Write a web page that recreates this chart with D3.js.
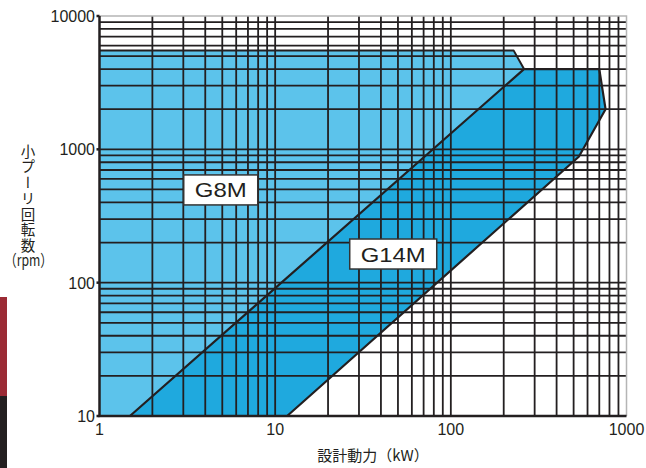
<!DOCTYPE html>
<html><head><meta charset="utf-8">
<script src="https://cdn.jsdelivr.net/npm/d3@7/dist/d3.min.js"></script>
<style>body{margin:0;background:#fff}svg{display:block}</style>
</head><body>
<svg id="c" width="646" height="468"></svg>
<script>
const xTicks = [1, 10, 100, 1000];
const yTicks = [10, 100, 1000, 10000];
const xTickLabels = ["1", "10", "100", "1000"];
const yTickLabels = ["10", "100", "1000", "10000"];
// G8M region boundary (power kW, rpm)
const g8mPower = [1, 1, 228, 261, 1.49];
const g8mRpm   = [10, 5500, 5500, 4000, 10];
// G14M region boundary
const g14mPower = [1.49, 261, 700, 760, 535, 11.7];
const g14mRpm   = [10, 4000, 4000, 2000, 880, 10];
const labels = [{text: "G8M", p: 4.9, r: 496, w: 52}, {text: "G14M", p: 47, r: 164, w: 65}];
const yTitle = "小プーリ回転数";
const yTitleUnit = "（rpm）";
const xTitle = "設計動力（kW）";

const svg = d3.select("#c");
const x = d3.scaleLog().domain([1, 1000]).range([99.5, 626.5]);
const y = d3.scaleLog().domain([10, 10000]).range([416, 16]);
const dark = "#231f20";

// decorative side bars
svg.append("rect").attr("x", 0).attr("y", 297).attr("width", 7).attr("height", 99).attr("fill", "#9b2b35");
svg.append("rect").attr("x", 0).attr("y", 396).attr("width", 7).attr("height", 72).attr("fill", dark);

const poly = (ps, rs) => d3.line().x(d => x(d[0])).y(d => y(d[1]))(ps.map((p, i) => [p, rs[i]])) + "Z";

svg.append("path").attr("d", poly(g8mPower, g8mRpm)).attr("fill", "#5cc3eb");
svg.append("path").attr("d", poly(g14mPower, g14mRpm)).attr("fill", "#1fa9de");

// grid
const xGrid = x.ticks().filter(v => v > 1 && v < 1000);
const yGrid = y.ticks().filter(v => v > 10 && v < 10000);
const g = svg.append("g");
g.selectAll(".vx").data(xGrid).join("line")
  .attr("x1", d => x(d)).attr("x2", d => x(d)).attr("y1", y(10000)).attr("y2", y(10))
  .attr("stroke", dark).attr("stroke-width", 1.8);
g.selectAll(".hy").data(yGrid).join("line")
  .attr("x1", x(1)).attr("x2", x(1000)).attr("y1", d => y(d)).attr("y2", d => y(d))
  .attr("stroke", dark).attr("stroke-width", 1.8);

// light frame top & right
svg.append("path").attr("d", `M${x(1)},${y(10000)}H${x(1000)}V${y(10)}`)
  .attr("fill", "none").attr("stroke", "#b5b5b5").attr("stroke-width", 1.5);

// outlines
svg.append("path").attr("d", d3.line().x(d => x(d[0])).y(d => y(d[1]))(
  g8mPower.slice(1, 4).map((p, i) => [p, g8mRpm[i + 1]])))
  .attr("fill", "none").attr("stroke", dark).attr("stroke-width", 2).attr("stroke-linejoin", "round");
svg.append("path").attr("d", d3.line().x(d => x(d[0])).y(d => y(d[1]))(
  g14mPower.map((p, i) => [p, g14mRpm[i]])))
  .attr("fill", "none").attr("stroke", dark).attr("stroke-width", 2.2).attr("stroke-linejoin", "round");

// axes
svg.append("path").attr("d", `M${x(1)},${y(10000)}V${y(10)}H${x(1000)}`)
  .attr("fill", "none").attr("stroke", dark).attr("stroke-width", 2.5);
svg.selectAll(".yt").data(yTicks).join("line")
  .attr("x1", x(1) - 3).attr("x2", x(1)).attr("y1", d => y(d)).attr("y2", d => y(d))
  .attr("stroke", dark).attr("stroke-width", 2.5);

const font = "'Liberation Sans', Arial, Helvetica, sans-serif";
svg.selectAll(".yl").data(yTicks).join("text")
  .attr("x", 95).attr("y", d => y(d) + 6).attr("text-anchor", "end")
  .attr("font-family", font).attr("font-size", 16).attr("fill", dark)
  .text((d, i) => yTickLabels[i]);
svg.selectAll(".xl").data(xTicks).join("text")
  .attr("x", d => x(d)).attr("y", 435).attr("text-anchor", "middle")
  .attr("font-family", font).attr("font-size", 16).attr("fill", dark)
  .text((d, i) => xTickLabels[i]);

// labels
labels.forEach(l => {
  const gg = svg.append("g");
  const cx = x(l.p), cy = y(l.r);
  gg.append("rect").attr("x", cx - l.w / 2 - 11).attr("y", cy - 15)
    .attr("width", l.w + 22).attr("height", 30)
    .attr("fill", "#fff").attr("stroke", "#333").attr("stroke-width", 1.5);
  gg.append("text").attr("x", cx).attr("y", cy + 7.5)
    .attr("text-anchor", "middle").attr("font-family", font).attr("font-size", 20.5)
    .attr("textLength", l.w).attr("lengthAdjust", "spacingAndGlyphs")
    .attr("fill", dark).text(l.text);
});

// titles
const jp = "'Noto Sans CJK JP', 'Noto Sans', sans-serif";
svg.append("text").attr("x", 28).attr("y", 144)
  .style("writing-mode", "vertical-rl").style("text-orientation", "upright")
  .attr("letter-spacing", 1.2)
  .attr("font-family", jp).attr("font-size", 14.5).attr("fill", dark).text(yTitle);
svg.append("text").attr("x", 28.5).attr("y", 266).attr("text-anchor", "middle")
  .attr("font-family", jp).attr("font-size", 16).attr("fill", dark)
  .attr("textLength", 48).attr("lengthAdjust", "spacingAndGlyphs").text(yTitleUnit);
svg.append("text").attr("x", 373).attr("y", 461).attr("text-anchor", "middle")
  .attr("font-family", jp).attr("font-size", 15).attr("fill", dark).text(xTitle);
</script>
</body></html>
